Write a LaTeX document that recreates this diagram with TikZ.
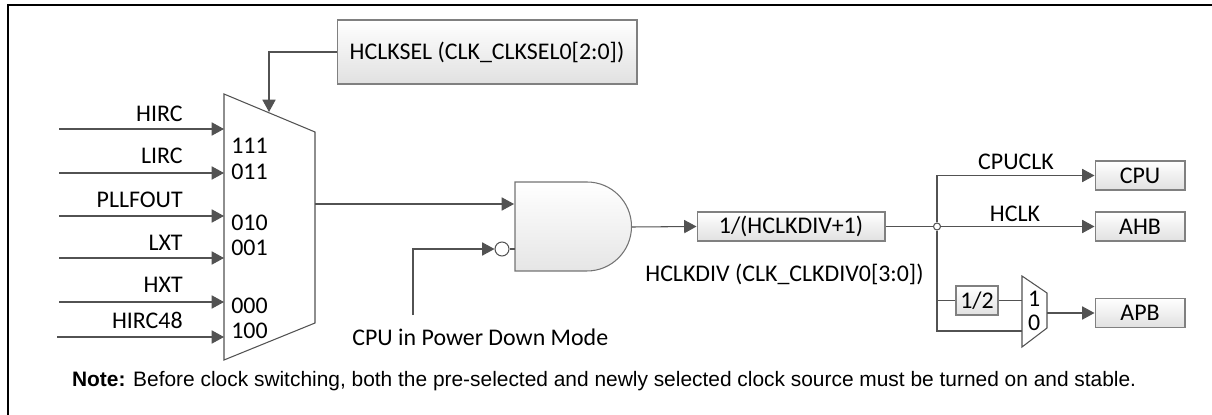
\documentclass[tikz,border=0pt]{standalone}
\usepackage{fontspec}
\setmainfont{Carlito}
\newfontfamily\notefont{Liberation Sans}
\usepackage{tikz}
\usetikzlibrary{arrows.meta,positioning,calc}
\tikzset{
  wire/.style={ draw=black!68, line width=0.6pt }
}
\tikzset{
  sig/.style={ wire, -{Triangle[length=7pt,width=7.5pt]} }
}
\tikzset{
  regbox/.style={ draw=black!50, line width=0.6pt, top color=white, bottom color=black!12, inner sep=0pt, minimum height=0.58cm }
}
\tikzset{
  lbl/.style={ inner sep=0pt, font=\fontsize{13.6}{15}\selectfont }
}

\begin{document}
\begin{tikzpicture}[x=0.02cm, y=-0.02cm]
        \useasboundingbox (0,0) rectangle (1212,415);
        \draw[line width=1.2pt] (8,415) -- (8,5) -- (1212,5);
        % clock source mux
        \draw[wire, fill=white] (224,94) -- (315,132) -- (315,323) -- (224,360) -- cycle;
        \coordinate (selin) at (269,112);
        \coordinate (muxout) at (315,204);
        \node[regbox, lbl, minimum width=6cm, minimum height=1.28cm] (sel) at (487,52) {HCLKSEL (CLK\_CLKSEL0[2:0])};
        \draw[sig] (sel.west) -| (selin);
        \foreach \name/\y/\yb/\x in {HIRC/129/121.7/59, LIRC/173/164/59, PLLFOUT/216/207.3/59, LXT/258/250/59, HXT/302/292.7/59, HIRC48/337/328.3/57} {
          \coordinate (\name s) at (\x,\y);
          \coordinate (\name e) at (224,\y);
          \node[lbl, anchor=base east] (\name) at (183,\yb) {\name};
          \draw[sig] (\name s) -- (\name e);
        }
        \foreach \code/\yb in {111/153.3, 011/179, 010/230.7, 001/255.7, 000/313.3, 100/338.3} {
          \node[lbl, anchor=base west] (p\code) at (231,\yb) {\code};
        }
        % gate
        \draw[draw=black!55, line width=0.6pt, top color=white, bottom color=black!10] (515,182) -- (587,182) arc[start angle=90, end angle=-90, radius=0.89cm] -- (515,271) -- cycle;
        \coordinate (gin1) at (514,204);
        \coordinate (gout) at (632,227);
        \node[circle, wire, fill=white, inner sep=0pt, minimum size=0.28cm] (bub) at (502,249) {};
        \coordinate (pdm) at (413,315);
        \node[lbl, anchor=base west] (pdtxt) at (352,345) {CPU in Power Down Mode};
        \draw[sig] (muxout) -- (gin1);
        \draw[wire] (bub.east) -- (515,249);
        \draw[sig] (pdm) |- (bub.west);
        % divider
        \node[regbox, lbl, minimum width=3.76cm] (div) at (791,226.5) {1/(HCLKDIV+1)};
        \node[lbl, anchor=base west] (divtxt) at (645,281.7) {HCLKDIV (CLK\_CLKDIV0[3:0])};
        \draw[sig] (gout) -- (div.west);
        \node[circle, wire, fill=white, inner sep=0pt, minimum size=0.14cm] (jn) at (937,226.5) {};
        \draw[wire] (div.east) -- (jn.west);
        % outputs
        \node[regbox, lbl, minimum width=1.8cm] (cpu) at (1140,175.5) {CPU};
        \node[regbox, lbl, minimum width=1.8cm] (ahb) at (1140,226.5) {AHB};
        \node[regbox, lbl, minimum width=1.8cm] (apb) at (1140,313) {APB};
        \node[regbox, lbl, minimum width=0.84cm] (half) at (977,300.5) {1/2};
        \draw[sig] (jn.north) |- (cpu.west);
        \draw[sig] (jn.east) -- (ahb.west);
        \node[lbl, anchor=base] (cpuclk) at (1016,170) {CPUCLK};
        \node[lbl, anchor=base] (hclk) at (1015,221.7) {HCLK};
        % apb mux
        \draw[wire, fill=white] (1022,276) -- (1047,293) -- (1047,328) -- (1022,347) -- cycle;
        \coordinate (m2a) at (1022,300.5);
        \coordinate (m2b) at (1022,331);
        \coordinate (m2out) at (1047,313);
        \node[lbl, anchor=base west] (one) at (1027.7,306.7) {1};
        \node[lbl, anchor=base west] (zero) at (1027.7,330) {0};
        \draw[wire] (jn.south) |- (m2b);
        \draw[wire] (jn |- half) -- (half.west);
        \draw[wire] (half.east) -- (m2a);
        \draw[sig] (m2out) -- (apb.west);
        % note
        \node[inner sep=0pt, anchor=base west, font=\notefont\fontsize{11.9}{14}\selectfont] (note) at (71.7,386.7) {\textbf{Note:} Before clock switching, both the pre-selected and newly selected clock source must be turned on and stable.};
\end{tikzpicture}
\end{document}
